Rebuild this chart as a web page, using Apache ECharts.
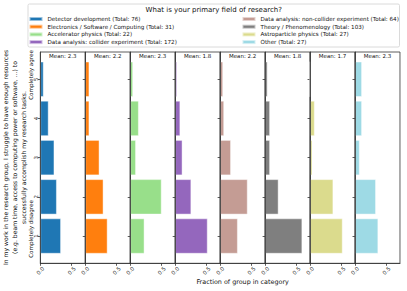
<!DOCTYPE html>
<html><head><meta charset="utf-8">
<script src="https://cdn.jsdelivr.net/npm/echarts@6/dist/echarts.min.js"></script>
<style>html,body{margin:0;padding:0;background:#fff}#c{width:407px;height:291px}</style>
</head><body><div id="c"></div>
<script>
// ---- data ----
const categories = ['1', '2', '3', '4', '5'];
const fields = [
  'Detector development (Total: 76)',
  'Electronics / Software / Computing (Total: 31)',
  'Accelerator physics (Total: 22)',
  'Data analysis: collider experiment (Total: 172)',
  'Data analysis: non-collider experiment (Total: 64)',
  'Theory / Phenomenology (Total: 103)',
  'Astroparticle physics (Total: 27)',
  'Other (Total: 27)'
];
const colors = ['#1f77b4', '#ff7f0e', '#98df8a', '#9467bd', '#c49c94', '#7f7f7f', '#dbdb8d', '#9edae5'];
// fractions for categories 1..5
const detector    = [0.329, 0.263, 0.224, 0.132, 0.053];
const electronics = [0.355, 0.290, 0.226, 0.065, 0.065];
const accelerator = [0.227, 0.500, 0.091, 0.136, 0.045];
const collider    = [0.517, 0.256, 0.116, 0.081, 0.029];
const noncollider = [0.281, 0.438, 0.172, 0.063, 0.047];
const theory      = [0.592, 0.214, 0.078, 0.078, 0.039];
const astro       = [0.519, 0.370, 0.037, 0.074, 0.000];
const other       = [0.370, 0.333, 0.074, 0.111, 0.111];
const seriesValues = [detector, electronics, accelerator, collider, noncollider, theory, astro, other];
const meanLabels = ['Mean: 2.3', 'Mean: 2.2', 'Mean: 2.3', 'Mean: 1.8', 'Mean: 2.2', 'Mean: 1.8', 'Mean: 1.7', 'Mean: 2.3'];
const xTicks = [0, 0.5];
const titleText = 'What is your primary field of research?';
const xLabelText = 'Fraction of group in category';
const yLabelLines = [
  'In my work in the research group, I struggle to have enough resources',
  '(e.g. beam time, access to computing power or software, ...) to',
  'successfully accomplish my research tasks.'
];
const agreeText = 'Completely agree';
const disagreeText = 'Completely disagree';

// ---- layout ----
const FONT = 'DejaVu Sans';
const X_MAX = 0.716;
const Y_MIN = 0.305, Y_MAX = 5.695;
const P_LEFT = 40.3, P_W = 44.96;
const F_TOP = 52, F_H = 211.3;
const UNIT = F_H / (Y_MAX - Y_MIN);
const B_TOP = F_TOP + (Y_MAX - 5.5) * UNIT, B_H = 5 * UNIT;
const AX = '#333';

const grid = [], xAxis = [], yAxis = [], series = [], graphic = [];
seriesValues.forEach((vals, i) => {
  const left = P_LEFT + i * P_W;
  grid.push({left: left, top: F_TOP, width: P_W, height: F_H, show: true, borderColor: AX, borderWidth: 0.8, backgroundColor: 'transparent'});
  grid.push({left: left, top: B_TOP, width: P_W, height: B_H});
  const fi = 2 * i, bi = 2 * i + 1;
  xAxis.push({
    gridIndex: fi, type: 'value', min: 0, max: X_MAX, interval: 0.5,
    axisLine: {show: true, lineStyle: {color: AX, width: 0.8}},
    axisTick: {show: true, length: 2.5, lineStyle: {color: AX, width: 0.8}, customValues: xTicks},
    axisLabel: {customValues: xTicks, rotate: 45, align: 'center', verticalAlign: 'middle', margin: 7.4,
      fontSize: 5.5, fontFamily: FONT, color: '#222', formatter: v => v.toFixed(1)},
    splitLine: {show: false}
  });
  yAxis.push({
    gridIndex: fi, type: 'value', min: Y_MIN, max: Y_MAX, z: 10,
    axisLine: {show: true, lineStyle: {color: AX, width: 0.8}},
    axisTick: {show: false}, axisLabel: {show: false}, splitLine: {show: false}
  });
  xAxis.push({gridIndex: bi, type: 'value', min: 0, max: X_MAX, show: false});
  yAxis.push({
    gridIndex: bi, type: 'category', data: categories,
    axisLine: {show: false},
    axisTick: {show: true, alignWithLabel: true, length: 2.5, lineStyle: {color: AX, width: 0.8}},
    axisLabel: {show: i === 0, rotate: 90, align: 'center', verticalAlign: 'middle', margin: 4.3,
      fontSize: 5.5, fontFamily: FONT, color: '#222'},
    splitLine: {show: false}
  });
  series.push({
    type: 'bar', name: fields[i], xAxisIndex: bi, yAxisIndex: bi, data: vals,
    barCategoryGap: '10%',
    itemStyle: {color: colors[i], borderColor: 'rgba(255,255,255,0.55)', borderWidth: 0.8},
    emphasis: {disabled: true}, silent: true
  });
  graphic.push({type: 'text', x: left + P_W / 2, y: 56.3, z: 20,
    style: {text: meanLabels[i], fontSize: 5.5, fontFamily: FONT, fill: '#111', textAlign: 'center', textVerticalAlign: 'middle'}});
});

// axis texts
graphic.push({type: 'text', x: P_LEFT + 4 * P_W + P_W / 2, y: 282, z: 20,
  style: {text: xLabelText, fontSize: 6.4, fontFamily: FONT, fill: '#111', textAlign: 'center', textVerticalAlign: 'middle'}});
const yLineX = [5.5, 14.3, 23];
yLabelLines.forEach((t, k) => {
  graphic.push({type: 'text', x: yLineX[k], y: 157.5, rotation: Math.PI / 2, z: 1,
    style: {text: t, fontSize: 6.1, fontFamily: FONT, fill: '#111', textAlign: 'center', textVerticalAlign: 'middle'}});
});
graphic.push({type: 'text', x: 30.5, y: 75, rotation: Math.PI / 2, z: 1,
  style: {text: agreeText, fontSize: 5.6, fontFamily: FONT, fill: '#111', textAlign: 'center', textVerticalAlign: 'middle'}});
graphic.push({type: 'text', x: 30.5, y: 229, rotation: Math.PI / 2, z: 1,
  style: {text: disagreeText, fontSize: 5.6, fontFamily: FONT, fill: '#111', textAlign: 'center', textVerticalAlign: 'middle'}});
// legend frame and title
graphic.push({type: 'rect', z: 30, shape: {x: 28, y: 4, width: 371.5, height: 43, r: 1.5},
  style: {fill: 'rgba(255,255,255,0.85)', stroke: '#d0d0d0', lineWidth: 0.8}});
graphic.push({type: 'text', x: 213.75, y: 10.3, z: 31,
  style: {text: titleText, fontSize: 7, fontFamily: FONT, fill: '#111', textAlign: 'center', textVerticalAlign: 'middle'}});

const legendCommon = {
  orient: 'vertical', top: 15.5, itemWidth: 13, itemHeight: 4, itemGap: 0.7, padding: 0, z: 40,
  icon: 'rect', selectedMode: false,
  textStyle: {fontSize: 5.6, lineHeight: 7, fontFamily: FONT, color: '#111'}
};

const chart = echarts.init(document.getElementById('c'), null, {renderer: 'svg'});
chart.setOption({
  animation: false,
  backgroundColor: '#fff',
  grid, xAxis, yAxis, series, graphic,
  legend: [
    Object.assign({}, legendCommon, {left: 28.5, data: fields.slice(0, 4)}),
    Object.assign({}, legendCommon, {left: 241.5, data: fields.slice(4)})
  ]
});
</script></body></html>
